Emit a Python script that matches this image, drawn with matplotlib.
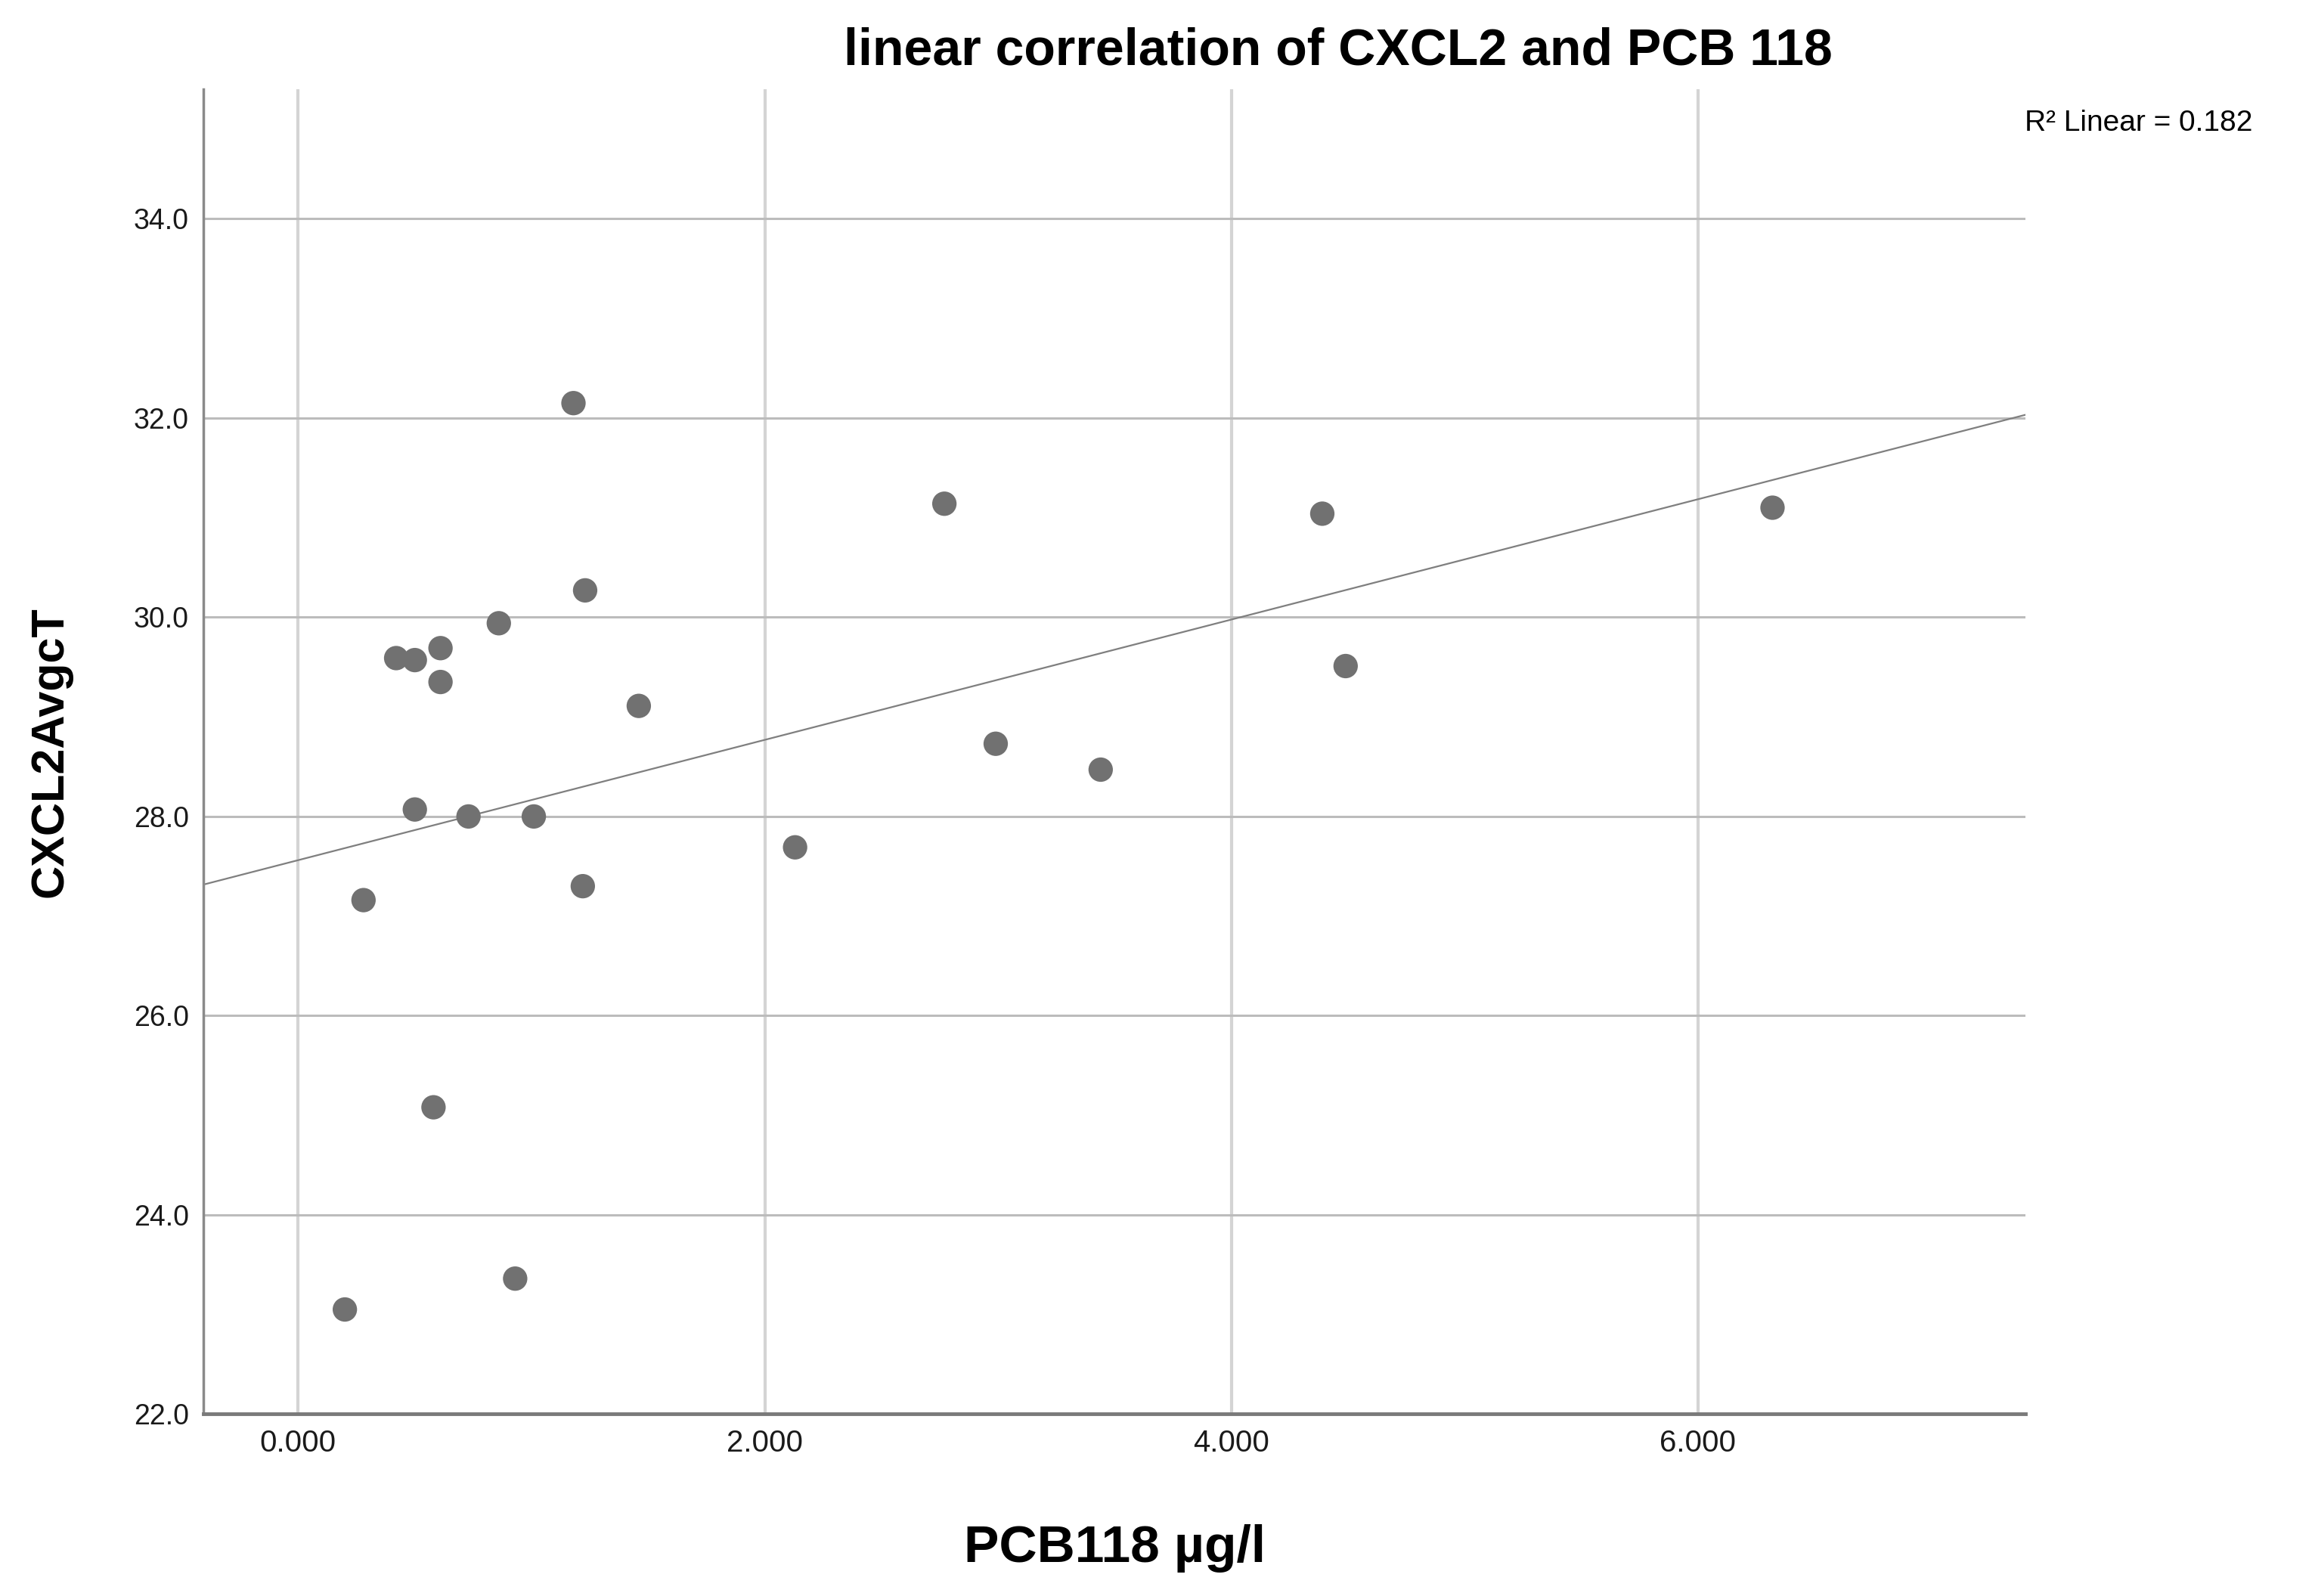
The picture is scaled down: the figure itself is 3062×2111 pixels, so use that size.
import numpy as np
import matplotlib
matplotlib.use("Agg")
import matplotlib.pyplot as plt

plt.rcParams['font.family'] = ['Liberation Sans', 'DejaVu Sans']

# PCB118 (ug/l) vs CXCL2 average cT
pcb118 = [1.18, 2.77, 4.39, 6.32, 1.23, 0.86, 0.42, 0.50, 0.61, 0.61, 1.46, 4.49,
          2.99, 3.44, 0.50, 0.73, 1.01, 2.13, 1.22, 0.28, 0.58, 0.93, 0.20]
cxcl2 = [32.15, 31.14, 31.04, 31.10, 30.27, 29.94, 29.59, 29.57, 29.69, 29.35, 29.11, 29.51,
         28.73, 28.47, 28.07, 28.00, 28.00, 27.69, 27.30, 27.16, 25.08, 23.36, 23.05]

x_ticks = [0, 2, 4, 6]
x_tick_labels = ["0.000", "2.000", "4.000", "6.000"]
y_ticks = [22, 24, 26, 28, 30, 32, 34]
y_tick_labels = ["22.0", "24.0", "26.0", "28.0", "30.0", "32.0", "34.0"]

fig = plt.figure(figsize=(30.62, 21.11), dpi=100)
ax = fig.add_axes([0.088, 0.114, 0.787, 0.830])

xlim = (-0.405, 7.405)
ylim = (22.0, 35.3)
ax.set_xlim(*xlim)
ax.set_ylim(*ylim)

# grid
for xv in x_ticks:
    ax.axvline(xv, color='#d4d4d4', lw=3, zorder=0)
for yv in y_ticks[1:]:
    ax.axhline(yv, color='#bcbcbc', lw=2.2, zorder=0)

ax.scatter(pcb118, cxcl2, s=540, color='#717171', edgecolors='none', zorder=3)

# least squares fit line
slope, icpt = np.polyfit(pcb118, cxcl2, 1)
xs = np.array(xlim)
ax.plot(xs, icpt + slope * xs, color='#7f7f7f', lw=1.6, zorder=2)

ax.set_xticks(x_ticks)
ax.set_xticklabels(x_tick_labels)
ax.set_yticks(y_ticks)
ax.set_yticklabels(y_tick_labels)
ax.tick_params(length=0, colors='#1a1a1a')
ax.tick_params(axis='x', labelsize=29, pad=14)
ax.tick_params(axis='y', labelsize=27, pad=14)

for side in ['top', 'right']:
    ax.spines[side].set_visible(False)
ax.spines['left'].set_color('#8a8a8a')
ax.spines['left'].set_linewidth(2.5)
ax.spines['bottom'].set_color('#7a7a7a')
ax.spines['bottom'].set_linewidth(3.5)

fig.text(0.578, 0.968, "linear correlation of CXCL2 and PCB 118", fontsize=49,
         fontweight='bold', ha='center', va='center')
fig.text(0.4815, 0.030, "PCB118 µg/l", fontsize=50, fontweight='bold',
         ha='center', va='center')
fig.text(0.022, 0.529, "CXCL2AvgcT", fontsize=44, fontweight='bold',
         ha='center', va='center', rotation=90)
fig.text(0.973, 0.923, "R² Linear = 0.182", fontsize=28, ha='right', va='center')

fig.savefig("out.png", dpi=100, facecolor='white')
